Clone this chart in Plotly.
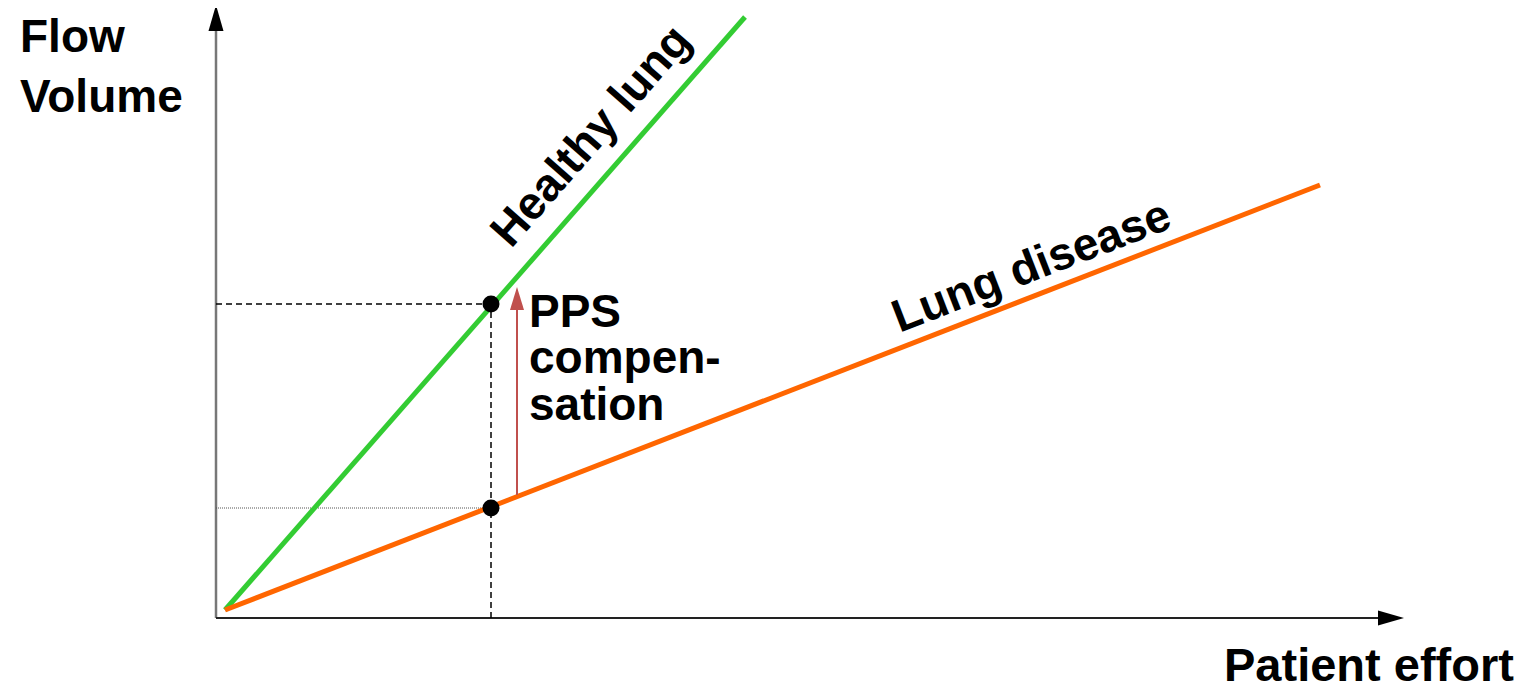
import plotly.graph_objects as go

# Data (units: 1 unit = 100 px in the reference drawing)
healthy_x = [0.09, 5.29]
healthy_y = [0.08, 6.01]
disease_x = [0.09, 11.04]
disease_y = [0.08, 4.33]
effort_point = 2.75
healthy_point = 3.14
disease_point = 1.10
comp_arrow_x = 3.01
comp_arrow_y = [1.23, 3.31]
y_axis_top = 6.13
x_axis_end = 11.88

FONT = "Liberation Sans, Arial, Helvetica, sans-serif"
BLACK = "#000000"
GREEN = "#33cc33"
ORANGE = "#ff6600"
RED = "#c0504d"

fig = go.Figure()

# axes
fig.add_trace(go.Scatter(x=[0, 0], y=[0, y_axis_top - 0.25], mode="lines",
                         line=dict(color="#777777", width=2.5), hoverinfo="skip"))
fig.add_trace(go.Scatter(x=[0, x_axis_end - 0.25], y=[0, 0], mode="lines",
                         line=dict(color="#222222", width=2), hoverinfo="skip"))
# arrowheads
fig.add_trace(go.Scatter(x=[-0.075, 0.075, 0, -0.075],
                         y=[y_axis_top - 0.26, y_axis_top - 0.26, y_axis_top, y_axis_top - 0.26],
                         mode="lines", fill="toself", fillcolor=BLACK,
                         line=dict(width=0, color=BLACK), hoverinfo="skip"))
fig.add_trace(go.Scatter(x=[x_axis_end - 0.26, x_axis_end - 0.26, x_axis_end, x_axis_end - 0.26],
                         y=[-0.075, 0.075, 0, -0.075],
                         mode="lines", fill="toself", fillcolor=BLACK,
                         line=dict(width=0, color=BLACK), hoverinfo="skip"))

# guide lines
fig.add_trace(go.Scatter(x=[0, effort_point], y=[healthy_point, healthy_point], mode="lines",
                         line=dict(color=BLACK, width=1.5, dash="6px,4px"), hoverinfo="skip"))
fig.add_trace(go.Scatter(x=[effort_point, effort_point], y=[0, healthy_point], mode="lines",
                         line=dict(color=BLACK, width=1.5, dash="6px,4px"), hoverinfo="skip"))
fig.add_trace(go.Scatter(x=[0, effort_point], y=[disease_point, disease_point], mode="lines",
                         line=dict(color="#555555", width=1, dash="1px,1px"), hoverinfo="skip"))

# curves
fig.add_trace(go.Scatter(x=healthy_x, y=healthy_y, mode="lines",
                         line=dict(color=GREEN, width=5), hoverinfo="skip"))
fig.add_trace(go.Scatter(x=disease_x, y=disease_y, mode="lines",
                         line=dict(color=ORANGE, width=5), hoverinfo="skip"))

# points
fig.add_trace(go.Scatter(x=[effort_point, effort_point], y=[healthy_point, disease_point],
                         mode="markers", marker=dict(color=BLACK, size=17), hoverinfo="skip"))

# compensation arrow
fig.add_trace(go.Scatter(x=[comp_arrow_x, comp_arrow_x], y=[comp_arrow_y[0], comp_arrow_y[1] - 0.2],
                         mode="lines", line=dict(color=RED, width=2), hoverinfo="skip"))
fig.add_trace(go.Scatter(x=[comp_arrow_x - 0.07, comp_arrow_x + 0.07, comp_arrow_x, comp_arrow_x - 0.07],
                         y=[comp_arrow_y[1] - 0.23, comp_arrow_y[1] - 0.23, comp_arrow_y[1], comp_arrow_y[1] - 0.23],
                         mode="lines", fill="toself", fillcolor=RED,
                         line=dict(width=0, color=RED), hoverinfo="skip"))

font = dict(family=FONT, size=46, color=BLACK)
ann = [
    dict(x=-1.98, y=6.10, text="<b>Flow<br>Volume</b>", xanchor="left", yanchor="top", align="left"),
    dict(x=13.0, y=-0.75, text="<b>Patient effort</b>", xanchor="right", yanchor="bottom",
         font=dict(family=FONT, size=47, color=BLACK)),
    dict(x=3.11, y=3.07, text="<b>PPS</b>", xanchor="left", yanchor="middle"),
    dict(x=3.11, y=2.61, text="<b>compen-</b>", xanchor="left", yanchor="middle"),
    dict(x=3.11, y=2.14, text="<b>sation</b>", xanchor="left", yanchor="middle"),
    dict(x=3.74, y=4.83, text="<b>Healthy lung</b>", textangle=-48.7, xanchor="center", yanchor="middle"),
    dict(x=8.15, y=3.53, text="<b>Lung disease</b>", textangle=-21.1, xanchor="center", yanchor="middle"),
]
for a in ann:
    a.setdefault("font", font)
    fig.add_annotation(xref="x", yref="y", showarrow=False, **a)

# page body has an 8px margin, so shift the data window accordingly
fig.update_layout(
    width=1528, height=688,
    margin=dict(l=0, r=0, t=0, b=0),
    paper_bgcolor="white", plot_bgcolor="white",
    showlegend=False,
    xaxis=dict(range=[-2.08, 13.20], visible=False, fixedrange=True),
    yaxis=dict(range=[-0.78, 6.10], visible=False, fixedrange=True),
)

fig.write_html("out.html")
